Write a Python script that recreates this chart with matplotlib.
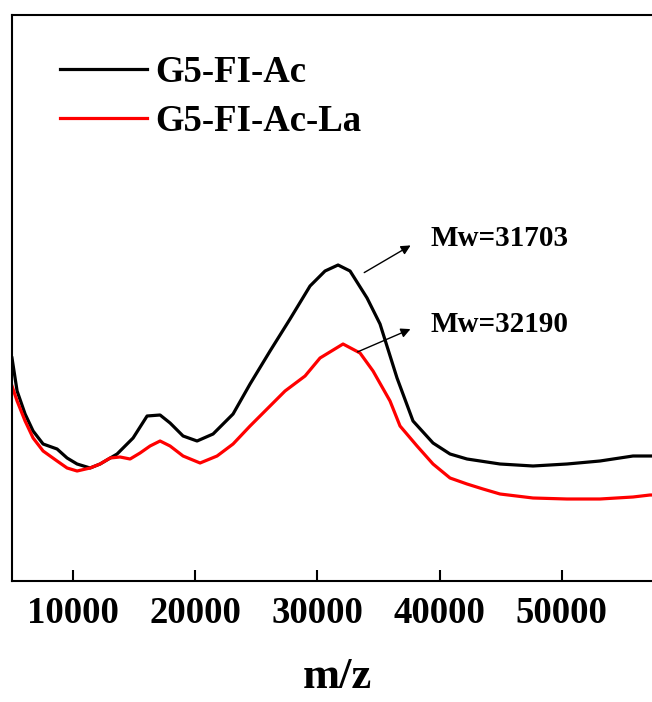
import matplotlib
matplotlib.use("Agg")
import matplotlib.pyplot as plt
from matplotlib.lines import Line2D

# values (m/z, intensity in arbitrary units)
mz_ac = [5000, 5417, 6072, 6727, 7545, 8690, 9509, 10327, 11391, 12209, 13601,
         14910, 16056, 17119, 17938, 19002, 20147, 21457, 23093, 24484, 26121,
         27757, 29394, 30622, 31686, 32668, 34059, 35122, 36513, 37822, 39459,
         40850, 42241, 44941, 47642, 50424, 53125, 55825, 57216, 58200]
int_ac = [223, 190, 167, 150, 137, 132, 123, 117, 113, 117, 127,
          143, 165, 166, 158, 145, 140, 147, 167, 197, 230,
          262, 295, 310, 316, 310, 283, 257, 203, 160, 138,
          127, 122, 117, 115, 117, 120, 125, 125, 125]

mz_la = [5000, 5417, 6072, 6727, 7545, 8690, 9509, 10327, 11391, 12209, 13028,
         13846, 14664, 15482, 16301, 17119, 17938, 19002, 20392, 21784, 23093,
         24484, 26121, 27348, 28985, 30212, 32094, 33485, 34549, 35940, 36759,
         38150, 39459, 40850, 42241, 43550, 44941, 47642, 50424, 53125, 55825,
         57216, 58200]
int_la = [195, 180, 160, 143, 130, 120, 113, 110, 113, 117, 123,
          124, 122, 128, 135, 140, 135, 125, 118, 125, 137,
          155, 175, 190, 205, 223, 237, 228, 210, 180, 155,
          135, 117, 103, 97, 92, 87, 83, 82, 82, 84,
          86, 86]

labels = ["G5-FI-Ac", "G5-FI-Ac-La"]
mw_labels = ["Mw=31703", "Mw=32190"]
xticks = [10000, 20000, 30000, 40000, 50000]

plt.rcParams["font.family"] = ["Liberation Serif", "DejaVu Serif"]
plt.rcParams["font.weight"] = "bold"

fig = plt.figure(figsize=(6.52, 7.02), dpi=100)
ax = fig.add_axes([12 / 652, 121 / 702, 650 / 652, 566 / 702])

ax.plot(mz_ac, int_ac, color="black", lw=2.3)
ax.plot(mz_la, int_la, color="#ff0000", lw=2.3)

ax.set_xlim(5000, 58200)
ax.set_ylim(0, 566)
ax.set_xticks(xticks)
ax.set_xticklabels([str(t) for t in xticks], fontsize=26.5, fontweight="bold")
ax.set_yticks([])
ax.tick_params(axis="x", direction="in", length=8, width=1.5, pad=11)
for s in ax.spines.values():
    s.set_linewidth(1.5)

ax.set_xlabel("m/z", fontsize=32, fontweight="bold")
ax.xaxis.set_label_coords(0.5, -0.134)

# annotations
ax.annotate("", xy=(37822, 337), xytext=(33632, 307),
            arrowprops=dict(arrowstyle="-|>", color="black", lw=1, mutation_scale=14))
ax.text(39213, 343, mw_labels[0], fontsize=21, fontweight="bold", va="center", ha="left")
ax.annotate("", xy=(37822, 253), xytext=(33077, 228),
            arrowprops=dict(arrowstyle="-|>", color="black", lw=1, mutation_scale=14))
ax.text(39213, 257, mw_labels[1], fontsize=21, fontweight="bold", va="center", ha="left")

handles = [Line2D([], [], color="black", lw=2.3), Line2D([], [], color="#ff0000", lw=2.3)]
ax.legend(handles, labels, loc="upper left", bbox_to_anchor=(0.0738, 0.93),
          frameon=False, handlelength=2.36, handletextpad=0.24,
          labelspacing=0.38, borderpad=0, borderaxespad=0,
          prop={"weight": "bold", "size": 26.5})

fig.savefig("out.png", dpi=100)
